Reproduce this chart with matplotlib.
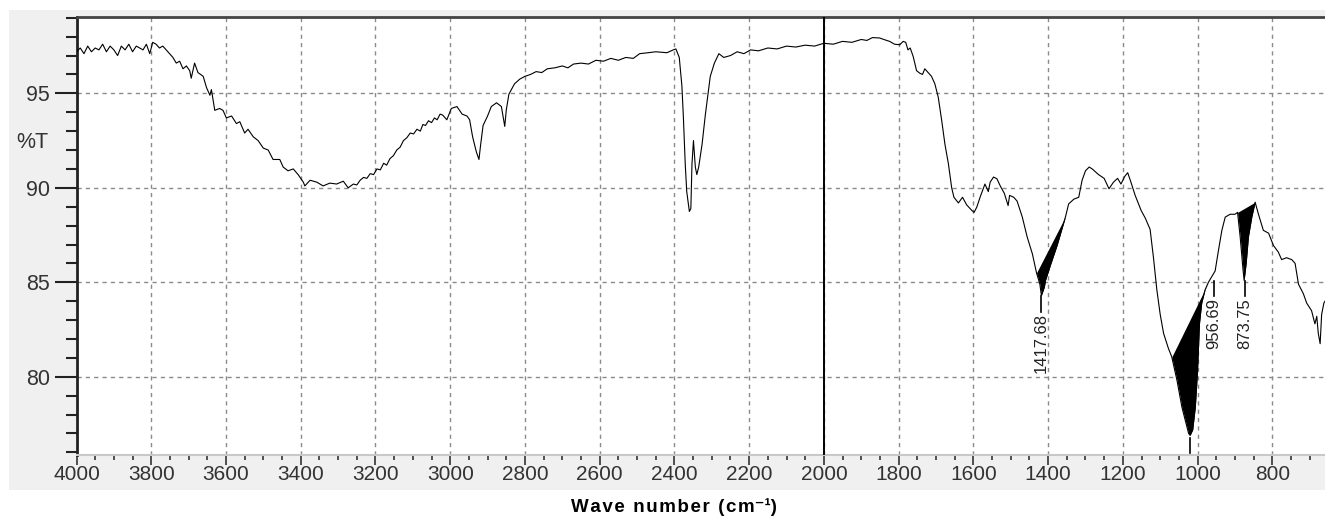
import numpy as np
import matplotlib
matplotlib.use("Agg")
import matplotlib.pyplot as plt
from matplotlib.patches import Rectangle

plt.rcParams['font.family'] = ['Liberation Sans', 'DejaVu Sans']

# spectrum (wave number, %T)
wavenumber = [
    4000, 3990, 3980, 3970, 3960, 3950, 3940, 3930, 3920, 3910,
    3900, 3890, 3880, 3870, 3860, 3850, 3840, 3831, 3822, 3813,
    3804, 3796, 3787, 3778, 3769, 3760, 3751, 3742, 3733, 3724,
    3715, 3706, 3697, 3693, 3684, 3675, 3661, 3652, 3643, 3639,
    3630, 3617, 3608, 3599, 3585, 3572, 3563, 3550, 3541, 3527,
    3514, 3500, 3487, 3474, 3456, 3447, 3434, 3420, 3407, 3393,
    3389, 3375, 3357, 3340, 3322, 3304, 3286, 3273, 3259, 3250,
    3241, 3232, 3223, 3214, 3205, 3196, 3187, 3178, 3170, 3161,
    3152, 3143, 3134, 3125, 3116, 3107, 3098, 3089, 3080, 3073,
    3066, 3058, 3050, 3042, 3035, 3027, 3020, 3009, 2997, 2982,
    2968, 2955, 2948, 2940, 2930, 2923, 2919, 2912, 2900, 2890,
    2876, 2863, 2854, 2850, 2843, 2828, 2814, 2800, 2785, 2770,
    2755, 2740, 2720, 2700, 2685, 2670, 2650, 2630, 2610, 2590,
    2570, 2550, 2530, 2510, 2493, 2470, 2450, 2420, 2403, 2396,
    2387, 2380, 2376, 2371, 2367, 2360, 2356, 2353, 2349, 2344,
    2340, 2335, 2326, 2317, 2304, 2293, 2281, 2268, 2250, 2232,
    2214, 2196, 2175, 2150, 2125, 2100, 2075, 2050, 2025, 2000,
    1975, 1950, 1925, 1900, 1885, 1870, 1851, 1838, 1824, 1811,
    1797, 1788, 1781, 1775, 1769, 1761, 1752, 1743, 1736, 1730,
    1721, 1712, 1703, 1694, 1685, 1676, 1667, 1658, 1652, 1640,
    1629, 1618, 1604, 1598, 1591, 1582, 1569, 1560, 1555, 1546,
    1537, 1528, 1517, 1507, 1503, 1492, 1483, 1469, 1456, 1442,
    1431, 1422, 1418, 1410, 1407, 1394, 1376, 1362, 1353, 1345,
    1331, 1318, 1309, 1300, 1290, 1282, 1265, 1250, 1237, 1225,
    1214, 1205, 1195, 1187, 1180, 1167, 1151, 1140, 1127, 1118,
    1109, 1100, 1091, 1078, 1069, 1055, 1042, 1033, 1024, 1020,
    1013, 1006, 1000, 995, 989, 980, 971, 962, 953, 944,
    935, 926, 913, 900, 893, 886, 879, 875.5, 870, 864,
    855, 846, 837, 824, 810, 797, 784, 775, 762, 748,
    739, 730, 717, 708, 695, 686, 681, 677, 672, 668,
    662, 659,
]
transmittance = [
    97.2, 97.4, 97.1, 97.5, 97.2, 97.4, 97.3, 97.6, 97.2, 97.5,
    97.3, 97.0, 97.5, 97.3, 97.6, 97.2, 97.5, 97.4, 97.3, 97.6,
    97.1, 97.7, 97.6, 97.4, 97.5, 97.3, 97.1, 96.9, 96.6, 96.7,
    96.3, 96.45, 96.2, 95.8, 96.6, 96.1, 95.9, 95.3, 94.9, 95.2,
    94.1, 94.2, 94.1, 93.7, 93.8, 93.4, 93.5, 92.9, 93.1, 92.7,
    92.5, 92.1, 92.0, 91.5, 91.5, 91.1, 90.9, 91.0, 90.7, 90.3,
    90.1, 90.4, 90.3, 90.1, 90.25, 90.2, 90.35, 90.0, 90.2, 90.15,
    90.4, 90.55, 90.5, 90.75, 90.7, 91.0, 90.95, 91.3, 91.2, 91.55,
    91.7, 92.0, 92.15, 92.5, 92.65, 92.9, 92.85, 93.1, 93.0, 93.35,
    93.3, 93.55, 93.45, 93.7, 93.6, 93.9, 93.85, 93.6, 94.2, 94.3,
    93.9, 93.8, 93.6, 92.7, 91.9, 91.5, 92.2, 93.3, 93.8, 94.3,
    94.5, 94.3, 93.25, 94.1, 94.95, 95.5, 95.75, 95.9, 96.0, 96.15,
    96.1, 96.3, 96.35, 96.45, 96.35, 96.55, 96.6, 96.55, 96.75, 96.7,
    96.85, 96.75, 96.9, 96.85, 97.1, 97.15, 97.2, 97.15, 97.3, 97.35,
    96.9, 95.4, 93.75, 91.25, 89.8, 88.75, 88.9, 91.25, 92.5, 91.1,
    90.7, 91.1, 92.3, 93.9, 95.9, 96.6, 97.1, 96.9, 97.0, 97.2,
    97.1, 97.3, 97.25, 97.4, 97.35, 97.5, 97.45, 97.55, 97.5, 97.65,
    97.6, 97.75, 97.7, 97.85, 97.8, 97.95, 97.93, 97.84, 97.75, 97.6,
    97.57, 97.75, 97.7, 97.3, 97.4, 96.95, 96.2, 96.06, 96.0, 96.3,
    96.1, 95.9, 95.5, 94.8, 93.6, 92.3, 91.3, 90.0, 89.5, 89.2,
    89.5, 89.1, 88.8, 88.7, 88.97, 89.5, 90.2, 89.8, 90.3, 90.57,
    90.48, 90.1, 89.7, 89.06, 89.6, 89.5, 89.3, 88.45, 87.4, 86.5,
    85.5, 84.9, 84.3, 84.75, 85.1, 85.9, 86.95, 87.9, 88.5, 89.15,
    89.4, 89.5, 90.4, 90.9, 91.1, 91.0, 90.7, 90.5, 89.95, 90.3,
    90.5, 90.2, 90.6, 90.8, 90.4, 89.6, 88.8, 88.4, 87.8, 86.3,
    84.6, 83.3, 82.3, 81.5, 81.05, 79.8, 78.4, 77.7, 77.0, 76.9,
    77.2, 78.4, 80.35, 82.8, 83.9, 84.6, 85.0, 85.3, 85.6, 86.7,
    87.75, 88.45, 88.6, 88.6, 88.7, 87.4, 85.8, 85.1, 86.0, 87.4,
    88.45, 89.24, 88.6, 87.75, 87.6, 86.95, 86.6, 86.2, 86.3, 86.2,
    86.0, 84.9, 84.4, 83.9, 83.5, 82.8, 83.2, 82.3, 81.75, 83.3,
    83.9, 84.0,
]

# integrated peak areas: baseline end points (wave number, %T)
area_start = [1431, 1069, 893]
area_start_t = [85.5, 81.05, 88.7]
area_end = [1353, 971, 846]
area_end_t = [88.5, 85.0, 89.24]

# peak picks
peak_pos = [1417.68, 956.69, 873.75, 1019.7]
peak_t = [84.3, 85.1, 85.1, 76.8]
peak_text = ["1417.68", "956.69", "873.75", ""]

wn = np.array(wavenumber, dtype=float)
tt = np.array(transmittance, dtype=float)

W, H = 1325, 523
fig = plt.figure(figsize=(W / 100, H / 100), dpi=100)
fig.patches.append(Rectangle((9 / W, 33 / H), (W - 9) / W, 480 / H,
                             transform=fig.transFigure, facecolor='#f0f0f0',
                             edgecolor='none', zorder=-5))
ax = fig.add_axes([76.5 / W, 68 / H, 1 - 76.5 / W, 438 / H])
ax.set_zorder(2)
ax.set_facecolor('white')

ax.plot(wn, tt, color='black', lw=0.8, zorder=3)

for x0, t0, x1, t1 in zip(area_start, area_start_t, area_end, area_end_t):
    m = (wn <= x0) & (wn >= x1)
    seg = wn[m]
    base = np.interp(seg, [x1, x0], [t1, t0])
    ax.fill_between(seg, tt[m], base, where=tt[m] <= base + 1e-9,
                    color='black', lw=0, zorder=3)

for p, t, s in zip(peak_pos, peak_t, peak_text):
    ax.plot([p, p], [t - 0.05, t - 0.85], color='black', lw=1.2, zorder=3)
    if s:
        ax.text(p, t - 0.95, s, rotation=90, ha='center', va='top',
                fontsize=12, color='#222')

ax.axvline(2000, color='black', lw=1.4, zorder=4)

ax.set_xlim(4000, 659)
ax.set_ylim(75.86, 99.04)

ax.set_xticks(np.arange(800, 4001, 200))
ax.set_xticks(np.arange(700, 4001, 50), minor=True)
ax.set_yticks([80, 85, 90, 95])
ax.set_yticks(np.arange(76, 100, 1), minor=True)

ax.grid(True, which='major', color='#8a8a8a', linestyle=(0, (3, 3)), lw=1)
ax.set_axisbelow(True)

ax.tick_params(axis='y', which='major', length=16, width=1.5, pad=3,
               labelsize=15.5, color='#222', labelcolor='#333')
ax.tick_params(axis='y', which='minor', length=8, width=1.5, color='#222')
ax.tick_params(axis='x', which='major', length=7, width=1.2, pad=0,
               labelsize=15, color='#333', labelcolor='#333')
ax.tick_params(axis='x', which='minor', length=3.5, width=1.2, color='#333')

ax.spines['right'].set_visible(False)
ax.spines['top'].set_color('#444')
ax.spines['top'].set_linewidth(2)
ax.spines['left'].set_color('#222')
ax.spines['left'].set_linewidth(2)
ax.spines['bottom'].set_color('#c8c8c8')
ax.spines['bottom'].set_linewidth(1.5)

fig.text(32.5 / W, 1 - 143 / H, "%T", ha='center', va='center',
         fontsize=15.5, color='#333')

xlabel = "\u200a".join("Wave number (cm") + "\u207b\u00b9)"
fig.text(674 / W, 1 - 507 / H, xlabel, ha='center', va='center',
         fontsize=13.5, fontweight='bold', color='black')

fig.savefig("out.png", dpi=100)
